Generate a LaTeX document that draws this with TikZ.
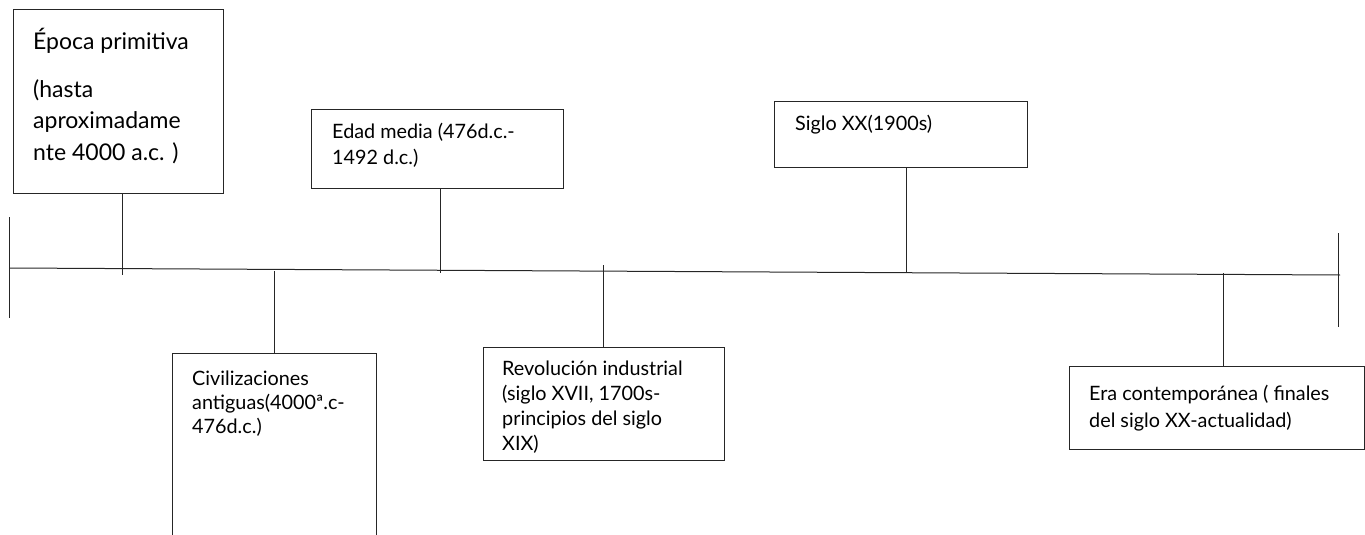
\documentclass[tikz,border=0pt]{standalone}
\usepackage{fontspec}
\setmainfont{Lato}
\begin{document}
\begin{tikzpicture}[x=1pt,y=-1pt,
  box/.style={draw=black!85,line width=1pt,inner sep=0pt,anchor=north west},
  txt/.style={inner sep=0pt,anchor=base west,align=left,text=black},
  ln/.style={draw=black!85,line width=1pt}]
\useasboundingbox (0,0) rectangle (1365,535);
\clip (0,0) rectangle (1365,535);
% boxes
\node[box,minimum width=210pt,minimum height=184pt] (b1) at (13,9) {};
\node[box,minimum width=204pt,minimum height=220pt] (b2) at (172,353) {};
\node[box,minimum width=252pt,minimum height=79pt] (b3) at (311,109) {};
\node[box,minimum width=241pt,minimum height=113pt] (b4) at (483,347) {};
\node[box,minimum width=253pt,minimum height=66pt] (b5) at (774,101) {};
\node[box,minimum width=295pt,minimum height=83pt] (b6) at (1069,366) {};
% texts (anchored at the baseline of their last line)
\node[txt,font=\fontsize{23}{31.5}\selectfont] (t1) at (33,160) {Época primitiva\\[16pt](hasta\\aproximadame\\nte 4000 a.c. )};
\node[txt,font=\fontsize{19.8}{24}\selectfont] (t2) at (192,433) {Civilizaciones\\antiguas(4000ª.c-\\476d.c.)};
\node[txt,font=\fontsize{19.8}{26}\selectfont] (t3) at (332,164) {Edad media (476d.c.-\\1492 d.c.)};
\node[txt,font=\fontsize{19.8}{25}\selectfont] (t4) at (502,450) {Revolución industrial\\(siglo XVII, 1700s-\\principios del siglo\\XIX)};
\node[txt,font=\fontsize{19.8}{26}\selectfont] (t5) at (795,130) {Siglo XX(1900s)};
\node[txt,font=\fontsize{19.8}{27}\selectfont] (t6) at (1089,427) {Era contemporánea ( finales\\del siglo XX-actualidad)};
% timeline
\coordinate (L) at (10,268);
\coordinate (R) at (1340,275);
\draw[ln] (L) -- (R);
\coordinate (Lt) at (9,217); \coordinate (Lb) at (9,318);
\coordinate (Rt) at (1338,233); \coordinate (Rb) at (1338,327);
\draw[ln] (Lt) -- (Lb);
\draw[ln] (Rt) -- (Rb);
% ticks on the timeline
\coordinate (p1) at (122,275);
\coordinate (p2) at (274,271);
\coordinate (p3) at (440,273);
\coordinate (p4) at (603,265);
\coordinate (p5) at (906,273);
\coordinate (p6) at (1223,273);
\draw[ln] (p1 |- b1.south) -- (p1);
\draw[ln] (p2) -- (p2 |- b2.north);
\draw[ln] (p3 |- b3.south) -- (p3);
\draw[ln] (p4) -- (p4 |- b4.north);
\draw[ln] (p5 |- b5.south) -- (p5);
\draw[ln] (p6) -- (p6 |- b6.north);
\end{tikzpicture}
\end{document}
